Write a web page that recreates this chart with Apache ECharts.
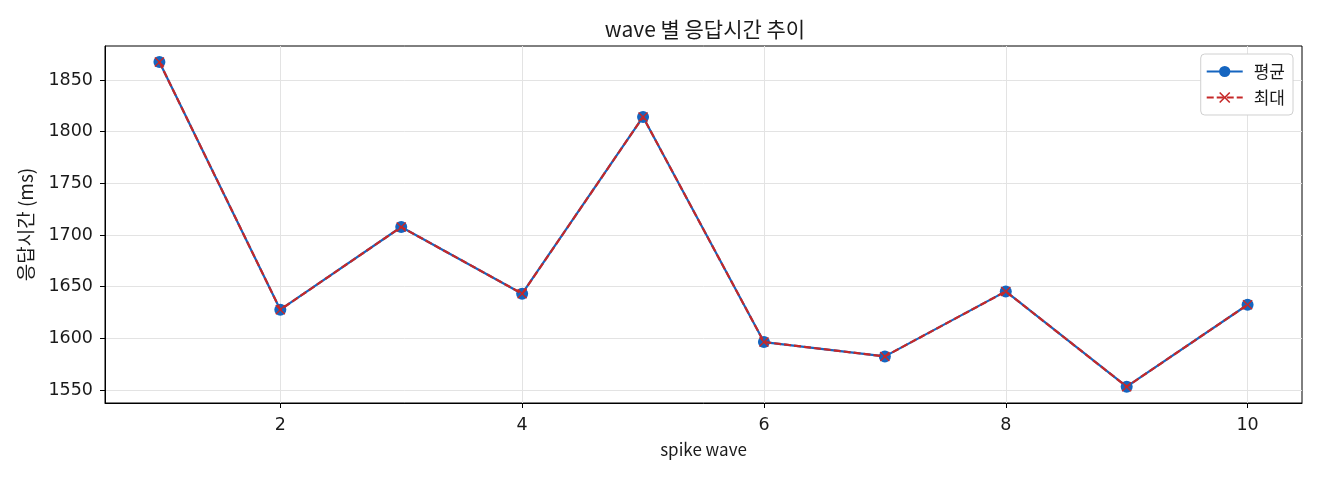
<!DOCTYPE html>
<html>
<head>
<meta charset="utf-8">
<script src="https://cdn.jsdelivr.net/npm/echarts@6/dist/echarts.min.js"></script>
<style>
html,body{margin:0;padding:0;background:#fff;}
#c{width:1320px;height:480px;}
</style>
</head>
<body>
<div id="c"></div>
<script>
const waves = [1, 2, 3, 4, 5, 6, 7, 8, 9, 10];
const avgMs = [1867.4, 1627.7, 1707.7, 1643.2, 1814.2, 1596.4, 1582.5, 1645.4, 1553.2, 1632.5];
const maxMs = [1867.4, 1627.7, 1707.7, 1643.2, 1814.2, 1596.4, 1582.5, 1645.4, 1553.2, 1632.5];
const xTicks = [2, 4, 6, 8, 10];
const yTicks = [1550, 1600, 1650, 1700, 1750, 1800, 1850];

const FONT = '"Noto Sans CJK KR", "Noto Sans", sans-serif';
const NUMFONT = '"DejaVu Sans", sans-serif';
const BLUE = '#1565C0';
const RED = '#C62828';
const XSYM = 'path://M1,0L5,4L9,0L10,1L6,5L10,9L9,10L5,6L1,10L0,9L4,5L0,1Z';

const chart = echarts.init(document.getElementById('c'), null, {renderer: 'canvas'});
chart.setOption({
  animation: false,
  backgroundColor: '#fff',
  textStyle: {fontFamily: FONT},
  title: {
    text: 'wave 별 응답시간 추이',
    left: 700, top: 14, textAlign: 'center',
    textStyle: {fontFamily: FONT, fontSize: 21, fontWeight: 'normal', color: '#1a1a1a'}
  },
  legend: {
    orient: 'vertical',
    right: 27, top: 54,
    padding: [9, 8, 9, 5],
    itemGap: 9,
    itemWidth: 36, itemHeight: 14,
    backgroundColor: '#fff',
    borderColor: '#d0d0d0', borderWidth: 1, borderRadius: 4,
    textStyle: {fontFamily: FONT, fontSize: 17, color: '#1a1a1a', padding: [0, 0, 0, 6]},
    data: ['평균', '최대']
  },
  grid: {left: 105, right: 18, top: 46, bottom: 77, show: true, borderColor: '#000', borderWidth: 1, containLabel: false},
  xAxis: {
    type: 'value', min: 0.55, max: 10.45,
    name: 'spike wave', nameLocation: 'middle', nameGap: 38,
    nameTextStyle: {fontFamily: FONT, fontSize: 17, color: '#1a1a1a'},
    axisLine: {show: true, lineStyle: {color: '#000', width: 1}},
    axisTick: {show: true, customValues: xTicks, length: 5, lineStyle: {color: '#000'}},
    axisLabel: {customValues: xTicks, fontFamily: NUMFONT, fontSize: 17.5, color: '#1a1a1a', margin: 13},
    splitLine: {show: true, lineStyle: {color: '#e3e3e3', width: 1}}
  },
  yAxis: {
    type: 'value', min: 1537.4, max: 1882.9,
    name: '응답시간 (ms)', nameLocation: 'middle', nameGap: 70, nameRotate: 90,
    nameTextStyle: {fontFamily: FONT, fontSize: 19, color: '#1a1a1a'},
    axisLine: {show: true, lineStyle: {color: '#000', width: 1}},
    axisTick: {show: true, customValues: yTicks, length: 5, lineStyle: {color: '#000'}},
    axisLabel: {customValues: yTicks, formatter: v => String(v), fontFamily: NUMFONT, fontSize: 17.5, color: '#1a1a1a', margin: 12},
    splitLine: {show: true, lineStyle: {color: '#e3e3e3', width: 1}}
  },
  series: [
    {
      name: '평균', type: 'line',
      data: waves.map((w, i) => [w, avgMs[i]]),
      symbol: 'circle', symbolSize: 12,
      lineStyle: {color: BLUE, width: 2.2},
      itemStyle: {color: BLUE},
      z: 2
    },
    {
      name: '최대', type: 'line',
      data: waves.map((w, i) => [w, maxMs[i]]),
      symbol: XSYM, symbolSize: 10,
      lineStyle: {color: RED, width: 2.2, type: [7, 3]},
      itemStyle: {color: RED},
      z: 3
    }
  ]
});
</script>
</body>
</html>
